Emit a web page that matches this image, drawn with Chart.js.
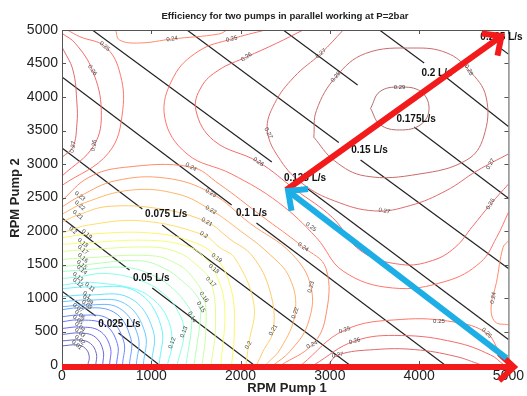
<!DOCTYPE html>
<html>
<head>
<meta charset="utf-8">
<script src="https://cdn.jsdelivr.net/npm/chart.js@4.4.0/dist/chart.umd.min.js"></script>
<style>
  html, body { margin: 0; padding: 0; background: #fff; }
</style>
</head>
<body>
<canvas id="effChart" width="527" height="396"></canvas>
<script>
const FONT = 'Liberation Sans, Arial, sans-serif';
const xTicks = [0, 1000, 2000, 3000, 4000, 5000];
const yTicks = [0, 500, 1000, 1500, 2000, 2500, 3000, 3500, 4000, 4500, 5000];

// iso-flow lines (black), split where the label sits
const flowLabels = ['0.025 L/s', '0.05 L/s', '0.075 L/s', '0.1 L/s', '0.125 L/s', '0.15 L/s', '0.175L/s', '0.2 L/s', '0.225 L/s'];
const flowLabelPos = [[644, 612], [1000, 1299], [1167, 2254], [2122, 2269], [2722, 2791], [3444, 3209], [3967, 3672], [4200, 4358], [4922, 4896]];
const flowSegments = [
    [[0, 1100], [378, 730]], [[633, 478], [1089, 0]],
    [[0, 2194], [756, 1418]], [[1011, 1149], [2150, 0]],
    [[0, 3240], [900, 2328]], [[1122, 2090], [3222, 0]],
    [[0, 4300], [1900, 2388]], [[2178, 2119], [4289, 0]],
    [[340, 5000], [2350, 3030]], [[2720, 2660], [5000, 380]],
    [[1400, 5000], [3100, 3320]], [[3344, 3060], [5000, 1440]],
    [[2478, 5000], [3311, 4179]], [[3944, 3552], [5000, 2490]],
    [[3556, 5000], [4056, 4507]], [[4311, 4284], [5000, 3560]],
    [[4900, 4740], [5000, 4640]]
];

// efficiency contours: level of each line, then its [rpm1, rpm2] points
const effLevels = [
    0.01, 0.02, 0.03, 0.04, 0.05, 0.06, 0.07, 0.08, 0.09, 0.1, 0.11, 0.12,
    0.13, 0.14, 0.15, 0.16, 0.17, 0.18, 0.19, 0.2, 0.21, 0.22, 0.23,
    0.24, 0.24, 0.24, 0.25, 0.25, 0.25, 0.26, 0.26, 0.26, 0.27, 0.27, 0.27, 0.28, 0.29
];
const effLines = [
    [[0, 285], [167, 299], [260, 250], [305, 130], [289, 0]],
    [[0, 360], [200, 373], [320, 320], [385, 170], [378, 0]],
    [[0, 455], [200, 478], [370, 420], [460, 220], [456, 0]],
    [[0, 545], [200, 567], [420, 510], [540, 270], [533, 0]],
    [[0, 645], [178, 672], [470, 610], [620, 320], [611, 0]],
    [[0, 720], [200, 746], [520, 690], [690, 360], [678, 0]],
    [[0, 825], [178, 851], [580, 790], [770, 400], [756, 0]],
    [[0, 870], [278, 896], [640, 850], [850, 440], [833, 0]],
    [[0, 945], [289, 970], [700, 920], [930, 480], [911, 0]],
    [[0, 1020], [278, 1045], [760, 1000], [1020, 520], [1000, 0]],
    [[0, 1140], [311, 1164], [830, 1100], [1110, 580], [1089, 0]],
    [[0, 1190], [178, 1224], [328, 1233], [800, 1140], [1020, 980], [1180, 700], [1233, 328], [1180, 0]],
    [[0, 1290], [178, 1314], [493, 1367], [900, 1250], [1150, 1050], [1300, 800], [1367, 493], [1290, 0]],
    [[0, 1395], [222, 1418], [717, 1456], [1050, 1320], [1250, 1130], [1400, 900], [1456, 717], [1390, 0]],
    [[0, 1470], [222, 1493], [866, 1556], [1150, 1440], [1350, 1250], [1500, 1050], [1556, 866], [1480, 0]],
    [[0, 1575], [233, 1597], [1015, 1630], [1300, 1500], [1450, 1330], [1589, 1015], [1610, 500], [1570, 0]],
    [[0, 1695], [233, 1717], [1000, 1760], [1300, 1680], [1500, 1500], [1667, 1239], [1720, 600], [1670, 0]],
    [[0, 1800], [233, 1821], [1000, 1860], [1433, 1760], [1600, 1600], [1700, 1433], [1820, 900], [1780, 0]],
    [[0, 1900], [278, 1950], [1000, 1970], [1500, 1820], [1733, 1597], [1900, 1100], [1930, 500], [1900, 0]],
    [[0, 1970], [298, 2089], [900, 2150], [1589, 1940], [1760, 1760], [1940, 1589], [2150, 900], [2089, 298], [2060, 0]],
    [[0, 2135], [200, 2250], [522, 2367], [1100, 2330], [1622, 2135], [1880, 1880], [2135, 1622], [2330, 1100], [2367, 522], [2250, 200], [2180, 0]],
    [[0, 2250], [250, 2420], [776, 2611], [1300, 2550], [1667, 2314], [2000, 2000], [2314, 1667], [2550, 1300], [2611, 776], [2450, 250], [2280, 0]],
    [[0, 2360], [200, 2520], [600, 2750], [1164, 2789], [1667, 2568], [2110, 2110], [2568, 1667], [2789, 1164], [2750, 600], [2550, 200], [2370, 0]],
    // 0.24
    [[0, 2456], [300, 2800], [700, 2950], [1444, 2956], [1761, 2700], [2230, 2230], [2700, 1761], [2956, 1444], [2950, 700], [2800, 300], [2456, 0]],
    [[600, 5000], [644, 4851], [867, 4806], [1233, 4866], [1756, 4940], [1850, 5000]],
    [[5000, 600], [4851, 644], [4806, 867], [4866, 1233], [4940, 1756], [5000, 1850]],
    // 0.25
    [[2278, 5000], [1900, 4866], [1533, 4687], [1250, 4300], [1150, 3700], [1400, 3150], [1900, 2850], [2425, 2425], [2850, 1900], [3150, 1400], [3700, 1150], [4300, 1250], [4687, 1533], [4866, 1900], [5000, 2278]],
    [[2680, 0], [3167, 522], [3800, 680], [4400, 640], [4756, 478], [4900, 200], [5000, 60]],
    [[0, 2680], [522, 3167], [680, 3800], [640, 4400], [478, 4756], [200, 4900], [60, 5000]],
    // 0.26
    [[2700, 5000], [2400, 4800], [2067, 4597], [1756, 4403], [1560, 4150], [1500, 3800], [1700, 3350], [2200, 3030], [2615, 2615], [3030, 2200], [3350, 1700], [3800, 1500], [4150, 1560], [4403, 1756], [4597, 2067], [4800, 2400], [5000, 2700]],
    [[2820, 0], [3278, 358], [3800, 440], [4400, 340], [4800, 150], [4950, 0]],
    [[0, 2820], [358, 3278], [440, 3800], [340, 4400], [150, 4800], [0, 4950]],
    // 0.27
    [[3150, 5000], [2900, 4650], [2600, 4300], [2380, 3900], [2300, 3500], [2450, 3050], [2700, 2700], [3050, 2450], [3500, 2300], [3900, 2380], [4300, 2600], [4650, 2900], [5000, 3150]],
    [[2980, 0], [3089, 149], [3500, 230], [3950, 230], [4403, 130], [4700, 0]],
    [[0, 3100], [122, 3254], [167, 3600], [167, 3910], [122, 4403], [0, 4746]],
    // 0.28, 0.29
    [[2820, 3400], [2850, 3800], [3067, 4300], [3400, 4650], [3944, 4731], [4311, 4657], [4556, 4403], [4750, 4000], [4722, 3403], [4533, 3060], [4000, 2850], [3400, 2820], [3050, 3050], [2820, 3400]],
    [[3456, 3830], [3560, 4080], [3780, 4149], [4020, 4080], [4111, 3830], [4020, 3590], [3780, 3508], [3560, 3590], [3456, 3830]]
];

// small inline contour labels: text, rpm1, rpm2, angle (deg)
const contourLabels = [
    ['0.01', 167, 299, 40], ['0.02', 200, 373, 40], ['0.03', 200, 478, 40], ['0.04', 200, 567, 40],
    ['0.05', 178, 672, 40], ['0.06', 200, 746, 40], ['0.07', 178, 851, 40], ['0.08', 278, 896, 40],
    ['0.09', 289, 970, 40], ['0.1', 278, 1045, 40], ['0.11', 311, 1164, 40], ['0.12', 178, 1224, 40],
    ['0.13', 178, 1314, 40], ['0.14', 222, 1418, 40], ['0.15', 222, 1493, 40], ['0.16', 233, 1597, 40],
    ['0.17', 233, 1717, 40], ['0.18', 233, 1821, 40], ['0.19', 278, 1950, 40], ['0.2', 122, 2010, 40],
    ['0.21', 178, 2240, 40], ['0.22', 200, 2380, 40], ['0.23', 200, 2520, 40],
    ['0.12', 1233, 328, -70], ['0.13', 1367, 493, -70], ['0.14', 1456, 717, 60], ['0.15', 1556, 866, 60],
    ['0.16', 1589, 1015, 55], ['0.17', 1667, 1239, 45], ['0.18', 1700, 1433, 40], ['0.19', 1733, 1597, 35],
    ['0.2', 1589, 1940, 30], ['0.21', 1622, 2135, 30], ['0.22', 1667, 2314, 30], ['0.23', 1667, 2568, 30],
    ['0.24', 1444, 2956, 30], ['0.2', 2089, 298, -60], ['0.21', 2367, 522, -60], ['0.22', 2611, 776, -70],
    ['0.23', 2789, 1164, -75], ['0.24', 2800, 300, -25], ['0.25', 3167, 522, -20], ['0.26', 3278, 358, -15],
    ['0.27', 3089, 149, -10], ['0.25', 4222, 650, 0], ['0.25', 4756, 478, 45], ['0.24', 4830, 1000, -80],
    ['0.24', 2700, 1761, 35], ['0.25', 2789, 2060, 35], ['0.26', 2200, 3030, 35], ['0.27', 2311, 3463, 65],
    ['0.27', 3611, 2300, 10], ['0.26', 4800, 2400, -60], ['0.27', 4800, 3000, -60],
    ['0.28', 4556, 4403, 60], ['0.29', 3780, 4149, 0], ['0.24', 1233, 4866, -10], ['0.25', 1900, 4866, -15],
    ['0.26', 2067, 4597, -35], ['0.27', 2900, 4650, -40], ['0.28', 3067, 4300, -50], ['0.25', 478, 4756, 40],
    ['0.26', 340, 4400, 55], ['0.26', 358, 3278, -80], ['0.27', 122, 3254, -80]
];

const redArrows = [[[0, -30], [5060, -30]], [[2511, 2612], [4922, 4910]]];
const blueArrow = [[4978, 104], [2533, 2597]];

function jetColor(v) {
    const t = (v - 0.01) / 0.28;
    const c = f => Math.max(0, Math.min(1, f));
    const r = c(1.5 - Math.abs(4 * t - 3));
    const g = c(1.5 - Math.abs(4 * t - 2));
    const b = c(1.5 - Math.abs(4 * t - 1));
    const mix = k => Math.round(255 * (0.42 + 0.58 * k));
    return 'rgb(' + mix(r) + ',' + mix(g) + ',' + mix(b) + ')';
}

const datasets = [];
effLines.forEach((pts, i) => {
    datasets.push({
        data: pts.map(p => ({ x: p[0], y: p[1] })),
        borderColor: jetColor(effLevels[i]),
        borderWidth: 1,
        pointRadius: 0,
        showLine: true,
        tension: 0.4
    });
});
flowSegments.forEach(seg => {
    datasets.push({
        data: seg.map(p => ({ x: p[0], y: p[1] })),
        borderColor: '#222',
        borderWidth: 1.2,
        pointRadius: 0,
        showLine: true
    });
});

function drawArrow(ctx, x1, y1, x2, y2, color) {
    const ang = Math.atan2(y2 - y1, x2 - x1);
    const head = 20, spread = 0.75;
    ctx.strokeStyle = color;
    ctx.lineWidth = 6;
    ctx.lineCap = 'butt';
    ctx.lineJoin = 'miter';
    ctx.beginPath();
    ctx.moveTo(x1, y1);
    ctx.lineTo(x2 - 3 * Math.cos(ang), y2 - 3 * Math.sin(ang));
    ctx.stroke();
    ctx.beginPath();
    ctx.moveTo(x2 - head * Math.cos(ang - spread), y2 - head * Math.sin(ang - spread));
    ctx.lineTo(x2, y2);
    ctx.lineTo(x2 - head * Math.cos(ang + spread), y2 - head * Math.sin(ang + spread));
    ctx.stroke();
}

const overlay = {
    id: 'overlay',
    afterDraw(chart) {
        const { ctx, chartArea: a, scales: { x, y } } = chart;
        ctx.save();
        // box and inward ticks
        ctx.strokeStyle = '#555';
        ctx.lineWidth = 1;
        ctx.strokeRect(a.left + 0.5, a.top + 0.5, a.right - a.left, a.bottom - a.top);
        ctx.beginPath();
        xTicks.forEach(v => {
            const px = Math.round(x.getPixelForValue(v)) + 0.5;
            ctx.moveTo(px, a.bottom); ctx.lineTo(px, a.bottom - 4);
            ctx.moveTo(px, a.top); ctx.lineTo(px, a.top + 4);
        });
        yTicks.forEach(v => {
            const py = Math.round(y.getPixelForValue(v)) + 0.5;
            ctx.moveTo(a.left, py); ctx.lineTo(a.left + 4, py);
            ctx.moveTo(a.right, py); ctx.lineTo(a.right - 4, py);
        });
        ctx.stroke();

        // contour value labels
        ctx.fillStyle = '#444';
        ctx.font = '6px ' + FONT;
        ctx.textAlign = 'center';
        ctx.textBaseline = 'middle';
        contourLabels.forEach(l => {
            ctx.save();
            ctx.translate(x.getPixelForValue(l[1]), y.getPixelForValue(l[2]));
            ctx.rotate(l[3] * Math.PI / 180);
            ctx.fillText(l[0], 0, 0);
            ctx.restore();
        });

        // flow labels
        ctx.fillStyle = '#111';
        ctx.font = 'bold 10px ' + FONT;
        flowLabels.forEach((t, i) => {
            ctx.fillText(t, x.getPixelForValue(flowLabelPos[i][0]), y.getPixelForValue(flowLabelPos[i][1]));
        });

        // arrows
        redArrows.forEach(ar => drawArrow(ctx,
            x.getPixelForValue(ar[0][0]), y.getPixelForValue(ar[0][1]),
            x.getPixelForValue(ar[1][0]), y.getPixelForValue(ar[1][1]), '#F21A1A'));
        drawArrow(ctx,
            x.getPixelForValue(blueArrow[0][0]), y.getPixelForValue(blueArrow[0][1]),
            x.getPixelForValue(blueArrow[1][0]), y.getPixelForValue(blueArrow[1][1]), '#1EAEE6');

        // titles
        ctx.fillStyle = '#222';
        ctx.font = 'bold 9.6px ' + FONT;
        ctx.fillText('Efficiency for two pumps in parallel working at P=2bar', 285, 16);
        ctx.font = 'bold 13px ' + FONT;
        ctx.fillText('RPM Pump 1', 287, 388);
        ctx.translate(15, 198);
        ctx.rotate(-Math.PI / 2);
        ctx.fillText('RPM Pump 2', 0, 0);
        ctx.restore();
    }
};

new Chart(document.getElementById('effChart'), {
    type: 'scatter',
    data: { datasets },
    options: {
        responsive: false,
        animation: false,
        layout: { padding: { top: 30, right: 15, left: 0, bottom: 0 } },
        scales: {
            x: {
                min: 0, max: 5000,
                afterFit: s => { s.height = 31; },
                afterBuildTicks: s => { s.ticks = xTicks.map(v => ({ value: v })); },
                grid: { display: false, drawTicks: false },
                border: { display: false },
                ticks: { color: '#222', padding: 3, maxRotation: 0, font: { size: 14, family: FONT }, callback: v => String(v) }
            },
            y: {
                min: 0, max: 5000,
                afterFit: s => { s.width = 62; },
                afterBuildTicks: s => { s.ticks = yTicks.map(v => ({ value: v })); },
                grid: { display: false, drawTicks: false },
                border: { display: false },
                ticks: { color: '#222', padding: 4, font: { size: 14, family: FONT }, callback: v => String(v) }
            }
        },
        plugins: {
            legend: { display: false },
            tooltip: { enabled: false }
        }
    },
    plugins: [overlay]
});
</script>
</body>
</html>
